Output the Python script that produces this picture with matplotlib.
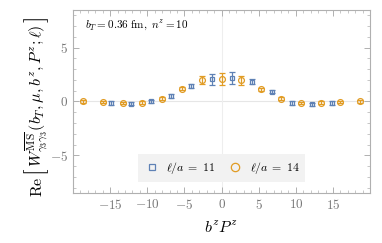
import matplotlib.pyplot as plt
from matplotlib.lines import Line2D
import numpy as np

plt.rcParams['mathtext.fontset'] = 'cm'
plt.rcParams['font.family'] = 'serif'
plt.rcParams['font.serif'] = ['DejaVu Serif']

# --- DATA ---
x11 = [-14.85, -12.15, -9.45, -6.75, -4.05, -1.35, 1.35, 4.05, 6.75, 9.45, 12.15, 14.85]
y11 = [-0.15, -0.2, 0.0, 0.5, 1.45, 2.05, 2.2, 1.85, 0.9, -0.15, -0.25, -0.15]
e11 = [0.15, 0.15, 0.15, 0.15, 0.2, 0.5, 0.55, 0.25, 0.15, 0.15, 0.15, 0.15]

x14 = [-18.67, -16.0, -13.33, -10.67, -8.0, -5.33, -2.67, 0.0, 2.67, 5.33, 8.0, 10.67, 13.33, 16.0, 18.67]
y14 = [0.0, -0.05, -0.15, -0.1, 0.27, 1.2, 2.0, 2.07, 1.97, 1.14, 0.25, -0.15, -0.1, -0.02, 0.0]
e14 = [0.1, 0.1, 0.1, 0.1, 0.12, 0.15, 0.4, 0.55, 0.4, 0.15, 0.12, 0.1, 0.1, 0.1, 0.1]

labels = [r'$\ell/a\;=\;11$', r'$\ell/a\;=\;14$']
blue = '#5E81B5'
orange = '#E19C24'
frame = '#b0b0b0'

# --- PLOT ---
fig = plt.figure(figsize=(3.82, 2.43), dpi=100)
ax = fig.add_axes([0.191, 0.206, 0.778, 0.753])

ax.axhline(0, color='#e6e6e6', lw=0.8, zorder=0)
ax.axvline(0, color='#eeeeee', lw=0.8, zorder=0)

ax.errorbar(x11, y11, yerr=e11, fmt='s', ms=3.2, mfc='none', mec=blue, mew=0.9,
            ecolor=blue, elinewidth=0.9, capsize=2.2, capthick=0.9)
ax.errorbar(x14, y14, yerr=e14, fmt='o', ms=4.2, mfc='none', mec=orange, mew=0.9,
            ecolor=orange, elinewidth=0.9, capsize=2.2, capthick=0.9)

ax.set_xlim(-20, 20)
ax.set_ylim(-8.5, 8.5)
ax.set_xticks([-15, -10, -5, 0, 5, 10, 15])
ax.set_yticks([-5, 0, 5])
ax.set_xticks(np.arange(-20, 21, 1), minor=True)
ax.set_yticks(np.arange(-8, 9, 1), minor=True)
ax.set_xticklabels([r'$-15$', r'$-10$', r'$-5$', r'$0$', r'$5$', r'$10$', r'$15$'])
ax.set_yticklabels([r'$-5$', r'$0$', r'$5$'])

for s in ax.spines.values():
    s.set_color(frame)
    s.set_linewidth(0.8)
ax.tick_params(which='both', direction='in', top=True, right=True, colors=frame,
               labelcolor='#777777', labelsize=9.5)
ax.tick_params(which='major', length=4, width=0.7)
ax.tick_params(which='minor', length=2, width=0.5)

ax.text(0.04, 0.92, r'$b_T = 0.36\ \mathrm{fm},\ n^z = 10$', transform=ax.transAxes,
        fontsize=8, va='center', ha='left')

ax.set_xlabel(r'$b^z P^z$', fontsize=11.5, labelpad=6)

# y label built from pieces so the brackets can be tall
pieces = [
    (r'$\mathrm{Re}$', 11.5),
    (r'$[$', 17),
    (r'$W^{\overline{\mathrm{MS}}}_{\gamma_3\gamma_3}(b_T,\mu,b^z,P^z;\ell)$', 11.5),
    (r'$]$', 17),
]
fig.canvas.draw()
renderer = fig.canvas.get_renderer()
xc = 37 / 382
ypos = 46.0
for txt, fs in pieces:
    t = fig.text(xc, ypos / 243, txt, rotation=90, fontsize=fs, ha='center', va='bottom')
    bb = t.get_window_extent(renderer)
    ypos += bb.height + 1

handles = [
    Line2D([], [], ls='none', marker='s', ms=4, mfc='none', mec=blue, mew=0.9),
    Line2D([], [], ls='none', marker='o', ms=6, mfc='none', mec=orange, mew=0.9),
]
leg = ax.legend(handles, labels, loc='lower center', ncol=2, bbox_to_anchor=(0.5, 0.03),
                fontsize=8.5, frameon=True, fancybox=False, handletextpad=0.5,
                columnspacing=1.0, borderpad=0.5, handlelength=1.4)
leg.get_frame().set_facecolor('#f2f2f2')
leg.get_frame().set_edgecolor('none')
leg.get_frame().set_alpha(1)

fig.savefig('out.png', dpi=100)
